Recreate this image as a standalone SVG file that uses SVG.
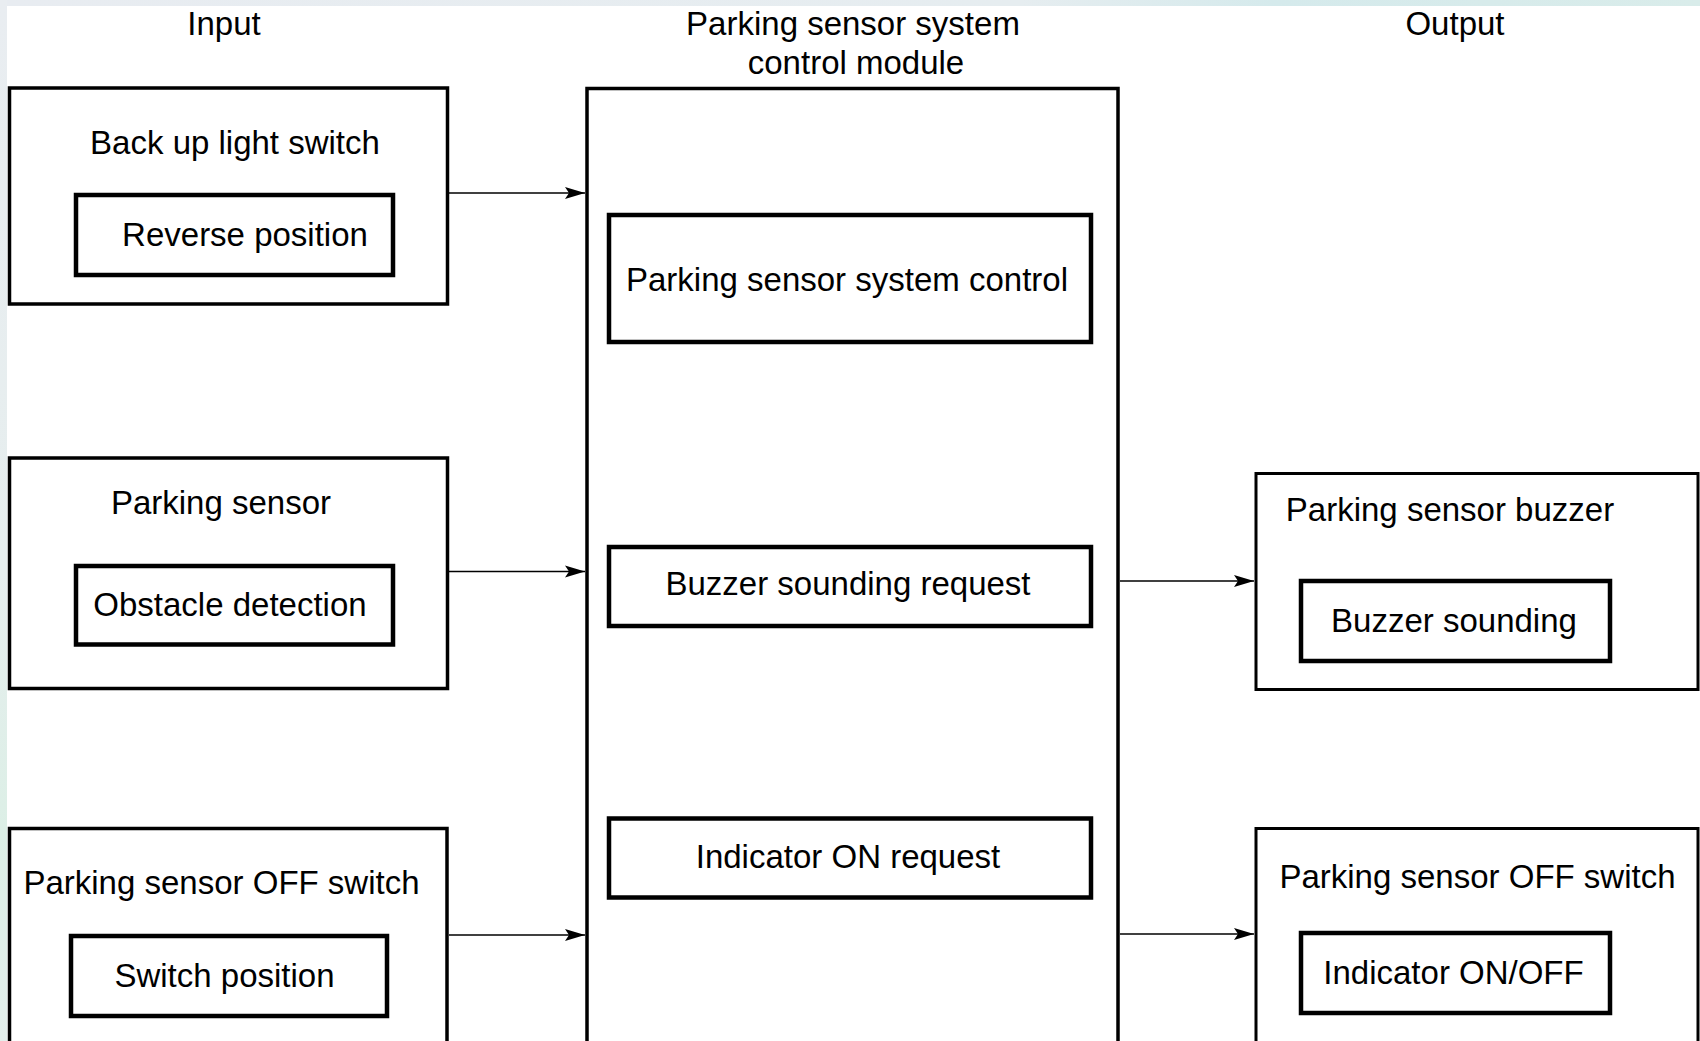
<svg xmlns="http://www.w3.org/2000/svg" width="1700" height="1041" viewBox="0 0 1700 1041">
<defs>
<style>
.outer{fill:none;stroke:#000;stroke-width:3.5}
.inner{fill:none;stroke:#000;stroke-width:4.5}
.outerR{fill:none;stroke:#000;stroke-width:3}
.conn{stroke:#000;stroke-width:1.6;fill:none}
text{font-family:"Liberation Sans",Arial,sans-serif;font-size:33px;fill:#000;text-anchor:middle}
</style>
<linearGradient id="topg" x1="0" y1="0" x2="1" y2="0">
<stop offset="0" stop-color="#e8ecf1"/>
<stop offset="0.6" stop-color="#e6edf0"/>
<stop offset="0.75" stop-color="#d5eaec"/>
<stop offset="1" stop-color="#d9ecea"/>
</linearGradient>
<linearGradient id="leftg" x1="0" y1="0" x2="0" y2="1">
<stop offset="0" stop-color="#e9edf1"/>
<stop offset="0.55" stop-color="#e6eeee"/>
<stop offset="0.8" stop-color="#dcefe6"/>
<stop offset="1" stop-color="#e3efec"/>
</linearGradient>
<marker id="arr" markerUnits="userSpaceOnUse" markerWidth="21" markerHeight="13" refX="20" refY="6.5" orient="auto">
<path d="M0,0.5 L20,6.5 L0,12.5 L4,6.5 Z" fill="#000"/>
</marker>
</defs>
<rect x="0" y="0" width="1700" height="1041" fill="#ffffff"/>
<rect x="0" y="0" width="1700" height="6" fill="url(#topg)"/>
<rect x="0" y="0" width="7" height="1041" fill="url(#leftg)"/>

<g id="headers">
<text x="224" y="35">Input</text>
<text x="853" y="35">Parking sensor system</text>
<text x="856" y="74">control module</text>
<text x="1455" y="35">Output</text>
</g>

<g id="backup-light-switch">
<rect class="outer" x="9.5" y="88" width="438" height="216"/>
<text x="235" y="154">Back up light switch</text>
<rect class="inner" x="76" y="195" width="317" height="80"/>
<text x="245" y="246">Reverse position</text>
</g>

<g id="parking-sensor">
<rect class="outer" x="9.5" y="458" width="438" height="230.5"/>
<text x="221" y="514">Parking sensor</text>
<rect class="inner" x="76" y="566" width="317" height="78.5"/>
<text x="230" y="616">Obstacle detection</text>
</g>

<g id="parking-sensor-off-switch-in">
<rect class="outer" x="9.5" y="828.5" width="437.5" height="240"/>
<text x="221.5" y="894">Parking sensor OFF switch</text>
<rect class="inner" x="71" y="936" width="316" height="80"/>
<text x="224.5" y="987">Switch position</text>
</g>

<g id="control-module">
<rect class="outer" x="587" y="88.5" width="531" height="980" stroke-width="4.5"/>
<g id="system-control">
<rect class="inner" x="609" y="215" width="482" height="127"/>
<text x="847" y="291">Parking sensor system control</text>
</g>
<g id="buzzer-request">
<rect class="inner" x="609" y="547" width="482" height="79"/>
<text x="848" y="595">Buzzer sounding request</text>
</g>
<g id="indicator-request">
<rect class="inner" x="609" y="818.5" width="482" height="79"/>
<text x="848" y="868">Indicator ON request</text>
</g>
</g>

<g id="parking-sensor-buzzer">
<rect class="outerR" x="1256" y="473.5" width="442" height="216"/>
<text x="1450" y="521">Parking sensor buzzer</text>
<rect class="inner" x="1301" y="581" width="309" height="80"/>
<text x="1454" y="631.5">Buzzer sounding</text>
</g>

<g id="parking-sensor-off-switch-out">
<rect class="outerR" x="1256" y="828.5" width="442" height="240"/>
<text x="1477.5" y="888">Parking sensor OFF switch</text>
<rect class="inner" x="1301" y="933" width="309" height="80"/>
<text x="1453.5" y="984">Indicator ON/OFF</text>
</g>

<g id="connectors">
<line class="conn" x1="449" y1="193" x2="585" y2="193" marker-end="url(#arr)"/>
<line class="conn" x1="449" y1="571.5" x2="585" y2="571.5" marker-end="url(#arr)"/>
<line class="conn" x1="449" y1="935" x2="585" y2="935" marker-end="url(#arr)"/>
<line class="conn" x1="1120" y1="581" x2="1254" y2="581" marker-end="url(#arr)"/>
<line class="conn" x1="1120" y1="934" x2="1254" y2="934" marker-end="url(#arr)"/>
</g>
</svg>
